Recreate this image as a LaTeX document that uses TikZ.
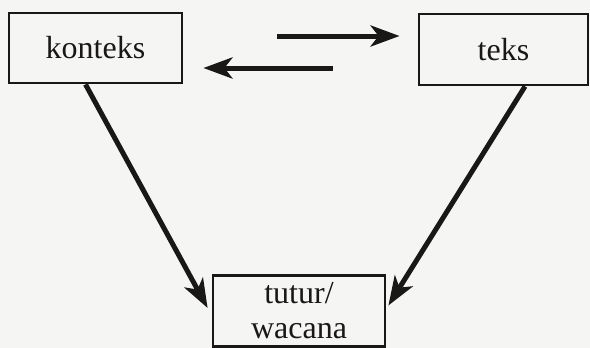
\documentclass[tikz,border=0pt]{standalone}
\usepackage{fontspec}
\setmainfont{Liberation Serif}
\usetikzlibrary{arrows.meta}
\definecolor{paper}{HTML}{F5F5F3}
\definecolor{ink}{HTML}{1A1717}
\tikzset{
  box/.style={draw=ink, line width=2.8pt, fill=paper, inner sep=0pt,
    align=center, font=\fontsize{32}{36}\selectfont, text=ink},
  arr/.style={draw=ink, line width=5pt,
    -{Stealth[length=29pt, width=21pt, inset=8pt]}}
}
\begin{document}
\begin{tikzpicture}[x=1pt, y=-1pt]
  \useasboundingbox (0,0) rectangle (590,348);
  \fill[paper] (0,0) rectangle (590,348);

  \node[box, minimum width=173pt, minimum height=70pt] (konteks) at (95.5,48) {konteks};
  \node[box, minimum width=169pt, minimum height=71pt] (teks) at (503.5,49.5) {teks};
  \node[box, minimum width=172pt, minimum height=71pt] (wacana) at (299,311)
    {tutur/\\[-1pt]wacana};

  % two-way link between konteks and teks
  \draw[arr, shorten <=94pt, shorten >=18pt]
    ([yshift=12pt]konteks.east) -- ([yshift=12pt]konteks.east -| teks.west);
  \draw[arr, shorten <=85pt, shorten >=20pt]
    ([yshift=-20pt]konteks.east -| teks.west) -- ([yshift=-20pt]konteks.east);

  % both feed into tutur/wacana
  \draw[arr] ([xshift=-10pt]konteks.south) -- ([shift={(-4pt,3pt)}]wacana.west);
  \draw[arr] ([xshift=21.5pt]teks.south) -- ([shift={(2pt,5.5pt)}]wacana.east);
\end{tikzpicture}
\end{document}
